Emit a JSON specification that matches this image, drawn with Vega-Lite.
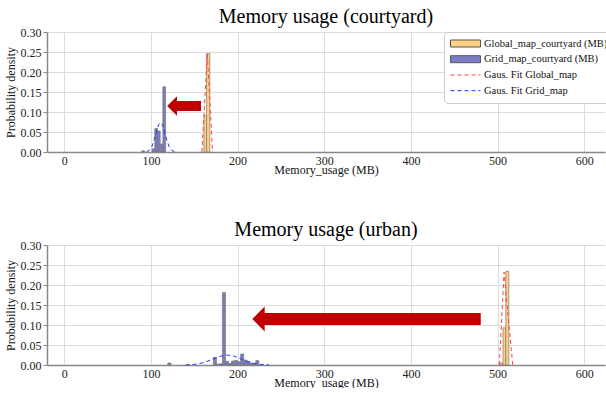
{
  "$schema": "https://vega.github.io/schema/vega-lite/v6.json",
  "background": "white",
  "padding": {"left": 4, "top": 7, "right": 0, "bottom": 0},
  "spacing": 45,
  "config": {
    "font": "Liberation Serif",
    "view": {"stroke": null},
    "axis": {
      "labelFont": "Liberation Serif", "titleFont": "Liberation Serif",
      "labelFontSize": 12, "titleFontSize": 12, "titleFontWeight": "normal",
      "labelColor": "#222", "titleColor": "#111",
      "gridColor": "#dcdcdc", "gridWidth": 1,
      "domainColor": "#888", "domainWidth": 1.5,
      "tickColor": "#888", "tickSize": 4
    },
    "legend": {"labelFont": "Liberation Serif", "titleFont": "Liberation Serif"},
    "title": {"font": "Liberation Serif", "fontSize": 20, "fontWeight": "normal", "color": "#000", "anchor": "middle", "offset": -1}
  },
  "datasets": {
    "court_bars": [
      {"series": "Grid_map_courtyard (MB)", "x0": 89.5, "x1": 92.6, "density": 0.003},
      {"series": "Grid_map_courtyard (MB)", "x0": 101.3, "x1": 104.4, "density": 0.008},
      {"series": "Grid_map_courtyard (MB)", "x0": 104.4, "x1": 107.5, "density": 0.059},
      {"series": "Grid_map_courtyard (MB)", "x0": 107.5, "x1": 110.6, "density": 0.0525},
      {"series": "Grid_map_courtyard (MB)", "x0": 110.6, "x1": 113.7, "density": 0.02},
      {"series": "Grid_map_courtyard (MB)", "x0": 113.7, "x1": 116.8, "density": 0.163},
      {"series": "Global_map_courtyard (MB)", "x0": 161.1, "x1": 164.2, "density": 0.091},
      {"series": "Global_map_courtyard (MB)", "x0": 164.2, "x1": 167.9, "density": 0.246}
    ],
    "court_fit": [
      {"series": "Gaus. Fit Global_map", "memory": 158.8, "density": 0},
      {"series": "Gaus. Fit Global_map", "memory": 165, "density": 0.245},
      {"series": "Gaus. Fit Global_map", "memory": 171.1, "density": 0},
      {"series": "Gaus. Fit Grid_map", "memory": 95, "density": 0.0009},
      {"series": "Gaus. Fit Grid_map", "memory": 98, "density": 0.0041},
      {"series": "Gaus. Fit Grid_map", "memory": 101, "density": 0.0133},
      {"series": "Gaus. Fit Grid_map", "memory": 104, "density": 0.032},
      {"series": "Gaus. Fit Grid_map", "memory": 107, "density": 0.0563},
      {"series": "Gaus. Fit Grid_map", "memory": 109, "density": 0.0691},
      {"series": "Gaus. Fit Grid_map", "memory": 111, "density": 0.074},
      {"series": "Gaus. Fit Grid_map", "memory": 113, "density": 0.0691},
      {"series": "Gaus. Fit Grid_map", "memory": 115, "density": 0.0563},
      {"series": "Gaus. Fit Grid_map", "memory": 118, "density": 0.032},
      {"series": "Gaus. Fit Grid_map", "memory": 121, "density": 0.0133},
      {"series": "Gaus. Fit Grid_map", "memory": 124, "density": 0.0041},
      {"series": "Gaus. Fit Grid_map", "memory": 127, "density": 0.0009}
    ],
    "urban_bars": [
      {"series": "Grid_map_urban (MB)", "x0": 119.5, "x1": 123, "density": 0.005},
      {"series": "Grid_map_urban (MB)", "x0": 172, "x1": 175.5, "density": 0.019},
      {"series": "Grid_map_urban (MB)", "x0": 175.5, "x1": 179, "density": 0.002},
      {"series": "Grid_map_urban (MB)", "x0": 179, "x1": 182.5, "density": 0.003},
      {"series": "Grid_map_urban (MB)", "x0": 182.5, "x1": 186, "density": 0.181},
      {"series": "Grid_map_urban (MB)", "x0": 186, "x1": 189.5, "density": 0.009},
      {"series": "Grid_map_urban (MB)", "x0": 189.5, "x1": 193, "density": 0.004},
      {"series": "Grid_map_urban (MB)", "x0": 193, "x1": 196.5, "density": 0.01},
      {"series": "Grid_map_urban (MB)", "x0": 196.5, "x1": 200, "density": 0.011},
      {"series": "Grid_map_urban (MB)", "x0": 200, "x1": 203.5, "density": 0.008},
      {"series": "Grid_map_urban (MB)", "x0": 203.5, "x1": 207, "density": 0.0275},
      {"series": "Grid_map_urban (MB)", "x0": 207, "x1": 210.5, "density": 0.0125},
      {"series": "Grid_map_urban (MB)", "x0": 210.5, "x1": 214, "density": 0.008},
      {"series": "Grid_map_urban (MB)", "x0": 214, "x1": 217.5, "density": 0.005},
      {"series": "Grid_map_urban (MB)", "x0": 217.5, "x1": 221, "density": 0.002},
      {"series": "Grid_map_urban (MB)", "x0": 221, "x1": 224.5, "density": 0.011},
      {"series": "Global_map_urban (MB)", "x0": 502.6, "x1": 506.3, "density": 0.005},
      {"series": "Global_map_urban (MB)", "x0": 506.3, "x1": 509.5, "density": 0.093},
      {"series": "Global_map_urban (MB)", "x0": 509.5, "x1": 513, "density": 0.234}
    ],
    "urban_fit": [
      {"series": "Gaus. Fit Global_map", "memory": 502.1, "density": 0},
      {"series": "Gaus. Fit Global_map", "memory": 507.5, "density": 0.232},
      {"series": "Gaus. Fit Global_map", "memory": 517.5, "density": 0},
      {"series": "Gaus. Fit Grid_map", "memory": 140, "density": 0.0003},
      {"series": "Gaus. Fit Grid_map", "memory": 150, "density": 0.0015},
      {"series": "Gaus. Fit Grid_map", "memory": 160, "density": 0.0054},
      {"series": "Gaus. Fit Grid_map", "memory": 170, "density": 0.0133},
      {"series": "Gaus. Fit Grid_map", "memory": 180, "density": 0.022},
      {"series": "Gaus. Fit Grid_map", "memory": 188, "density": 0.025},
      {"series": "Gaus. Fit Grid_map", "memory": 196, "density": 0.022},
      {"series": "Gaus. Fit Grid_map", "memory": 206, "density": 0.0133},
      {"series": "Gaus. Fit Grid_map", "memory": 216, "density": 0.0054},
      {"series": "Gaus. Fit Grid_map", "memory": 226, "density": 0.0015},
      {"series": "Gaus. Fit Grid_map", "memory": 236, "density": 0.0003}
    ],
    "court_arrow": [{"tip": 118.7, "base": 129.5, "tail": 157.7, "y": 0.115}],
    "urban_arrow": [{"tip": 216.9, "base": 230.5, "tail": 480.6, "y": 0.115}]
  },
  "resolve": {"scale": {"fill": "independent", "stroke": "independent"}, "legend": {"fill": "independent", "stroke": "independent"}},
  "vconcat": [
    {
      "title": {"text": "Memory usage (courtyard)"},
      "width": 558,
      "height": 120,
      "layer": [
        {
          "data": {"name": "court_bars"},
          "mark": {"type": "rect", "stroke": "#777", "strokeWidth": 0.7},
          "encoding": {
            "x": {"field": "x0", "type": "quantitative", "scale": {"domain": [-20, 624], "nice": false, "zero": false},
                  "axis": {"values": [0, 100, 200, 300, 400, 500, 600], "title": "Memory_usage (MB)", "titlePadding": -2, "labelPadding": 3, "ticks": false}},
            "x2": {"field": "x1"},
            "y": {"field": "density", "type": "quantitative", "scale": {"domain": [0, 0.3], "nice": false},
                  "axis": {"tickCount": 6, "format": ".2f", "title": "Probability density", "titlePadding": 3, "labelPadding": 2}},
            "y2": {"datum": 0},
            "fill": {"field": "series", "type": "nominal",
              "scale": {"domain": ["Global_map_courtyard (MB)", "Grid_map_courtyard (MB)"], "range": ["#ffd27f", "#7b7bc4"]},
              "legend": {
                "title": " ", "titleOrient": "bottom", "titleFontSize": 20, "titlePadding": 12,
                "orient": "none", "legendX": 397, "legendY": 0,
                "padding": 6, "rowPadding": 4.7, "symbolSize": 100, "symbolOffset": 10, "labelOffset": 13,
                "symbolType": "M-3,-0.7H3V0.7H-3Z", "symbolStrokeColor": "#555", "symbolStrokeWidth": 1, "symbolOpacity": 1,
                "labelFontSize": 10.5, "labelColor": "#111", "labelLimit": 200,
                "strokeColor": "#cccccc", "fillColor": "white", "cornerRadius": 4
              }}
          }
        },
        {
          "data": {"name": "court_fit"},
          "mark": {"type": "line", "strokeDash": [4, 3], "strokeWidth": 1},
          "encoding": {
            "x": {"field": "memory", "type": "quantitative"},
            "y": {"field": "density", "type": "quantitative"},
            "stroke": {"field": "series", "type": "nominal",
              "scale": {"domain": ["Gaus. Fit Global_map", "Gaus. Fit Grid_map"], "range": ["#ff4444", "#2233ff"]},
              "legend": {
                "title": null, "orient": "none", "legendX": 397, "legendY": 31.5,
                "padding": 6, "rowPadding": 4.7, "symbolSize": 100, "symbolOffset": 10, "labelOffset": 13,
                "symbolType": "M-3,0H3", "symbolDash": [4, 3], "symbolStrokeWidth": 1, "symbolOpacity": 1,
                "labelFontSize": 10.5, "labelColor": "#111", "labelLimit": 200
              }}
          }
        },
        {
          "data": {"name": "court_arrow"},
          "mark": {"type": "rule", "color": "#c00000", "strokeWidth": 10, "strokeCap": "butt"},
          "encoding": {
            "x": {"field": "base", "type": "quantitative"},
            "x2": {"field": "tail"},
            "y": {"field": "y", "type": "quantitative"}
          }
        },
        {
          "data": {"name": "court_arrow"},
          "mark": {"type": "point", "shape": "M0,0L1,-1L1,1Z", "size": 384, "filled": true, "color": "#c00000", "opacity": 1, "strokeWidth": 0},
          "encoding": {
            "x": {"field": "tip", "type": "quantitative"},
            "y": {"field": "y", "type": "quantitative"}
          }
        }
      ]
    },
    {
      "title": {"text": "Memory usage (urban)"},
      "width": 558,
      "height": 120,
      "layer": [
        {
          "data": {"name": "urban_bars"},
          "mark": {"type": "rect", "stroke": "#777", "strokeWidth": 0.7},
          "encoding": {
            "x": {"field": "x0", "type": "quantitative", "scale": {"domain": [-20, 624], "nice": false, "zero": false},
                  "axis": {"values": [0, 100, 200, 300, 400, 500, 600], "title": "Memory_usage (MB)", "titlePadding": -2, "labelPadding": 3, "ticks": false}},
            "x2": {"field": "x1"},
            "y": {"field": "density", "type": "quantitative", "scale": {"domain": [0, 0.3], "nice": false},
                  "axis": {"tickCount": 6, "format": ".2f", "title": "Probability density", "titlePadding": 3, "labelPadding": 2}},
            "y2": {"datum": 0},
            "fill": {"field": "series", "type": "nominal",
              "scale": {"domain": ["Global_map_urban (MB)", "Grid_map_urban (MB)"], "range": ["#ffd27f", "#7b7bc4"]},
              "legend": null}
          }
        },
        {
          "data": {"name": "urban_fit"},
          "mark": {"type": "line", "strokeDash": [4, 3], "strokeWidth": 1},
          "encoding": {
            "x": {"field": "memory", "type": "quantitative"},
            "y": {"field": "density", "type": "quantitative"},
            "stroke": {"field": "series", "type": "nominal",
              "scale": {"domain": ["Gaus. Fit Global_map", "Gaus. Fit Grid_map"], "range": ["#ff4444", "#2233ff"]},
              "legend": null}
          }
        },
        {
          "data": {"name": "urban_arrow"},
          "mark": {"type": "rule", "color": "#c00000", "strokeWidth": 12, "strokeCap": "butt"},
          "encoding": {
            "x": {"field": "base", "type": "quantitative"},
            "x2": {"field": "tail"},
            "y": {"field": "y", "type": "quantitative"}
          }
        },
        {
          "data": {"name": "urban_arrow"},
          "mark": {"type": "point", "shape": "M0,0L1,-1L1,1Z", "size": 615, "filled": true, "color": "#c00000", "opacity": 1, "strokeWidth": 0},
          "encoding": {
            "x": {"field": "tip", "type": "quantitative"},
            "y": {"field": "y", "type": "quantitative"}
          }
        }
      ]
    }
  ]
}
